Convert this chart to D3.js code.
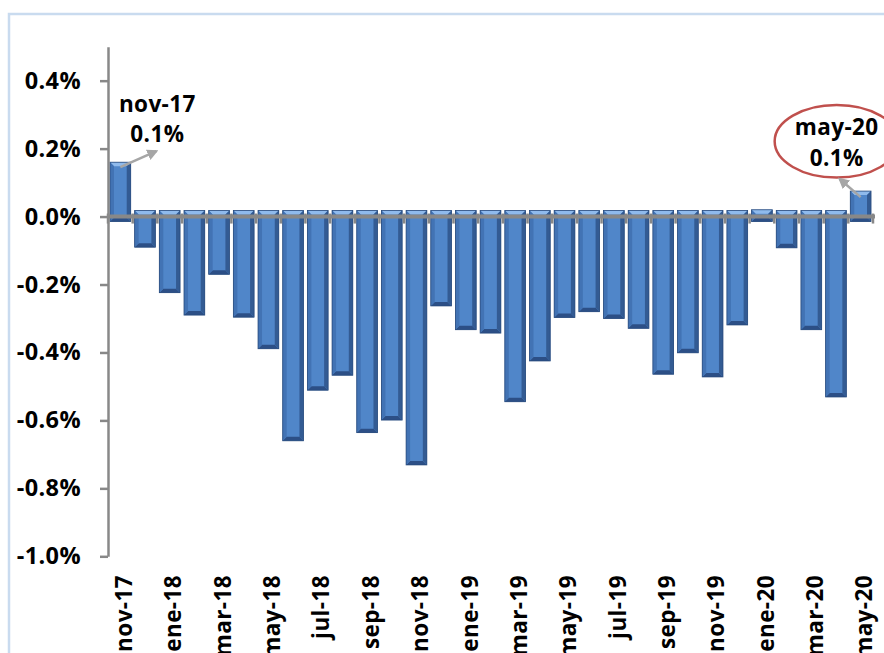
<!DOCTYPE html>
<html>
<head>
<meta charset="utf-8">
<script src="https://cdn.jsdelivr.net/npm/d3@7"></script>
<style>
  body { margin: 0; background: #fff; }
  text { font-family: "Open Sans", "Noto Sans", sans-serif; font-weight: bold; fill: #000; letter-spacing: 0.4px; }
</style>
</head>
<body>
<div id="chart"></div>
<script>
const months = [
    "nov-17", "dic-17", "ene-18", "feb-18", "mar-18", "abr-18", "may-18", "jun-18",
    "jul-18", "ago-18", "sep-18", "oct-18", "nov-18", "dic-18", "ene-19", "feb-19",
    "mar-19", "abr-19", "may-19", "jun-19", "jul-19", "ago-19", "sep-19", "oct-19",
    "nov-19", "dic-19", "ene-20", "feb-20", "mar-20", "abr-20", "may-20"
];
// monthly change, %
const values = [
    0.16, -0.09, -0.224, -0.29, -0.17, -0.296, -0.389, -0.66,
    -0.511, -0.467, -0.636, -0.599, -0.731, -0.263, -0.333, -0.343,
    -0.545, -0.425, -0.297, -0.28, -0.30, -0.329, -0.464, -0.401,
    -0.472, -0.319, 0.02, -0.092, -0.333, -0.531, 0.075
];
const yTicks = [0.4, 0.2, 0.0, -0.2, -0.4, -0.6, -0.8, -1.0];
const xLabels = months.filter((m, i) => i % 2 === 0);
const callouts = [
    { month: "nov-17", lines: ["nov-17", "0.1%"] },
    { month: "may-20", lines: ["may-20", "0.1%"] }
];

const width = 884;
const height = 653;
const plotLeft = 108;
const plotRight = 873;
const plotTop = 46.7;
const plotBottom = 556.3;

const svg = (
    d3.select("#chart")
    .append("svg")
    .attr("width", width)
    .attr("height", height)
);

svg.append("defs").append("marker")
    .attr("id", "arrow")
    .attr("viewBox", "0 0 10 10")
    .attr("refX", 8).attr("refY", 5)
    .attr("markerWidth", 4.5).attr("markerHeight", 4.5)
    .attr("orient", "auto")
    .append("path")
    .attr("d", "M0,0 L10,5 L0,10 z")
    .attr("fill", "#a6a6a6");

// outer frame (only top and left edges are visible)
svg.append("path")
    .attr("d", `M9,${height} L9,14 L${width},14`)
    .attr("fill", "none")
    .attr("stroke", "#c9dbef")
    .attr("stroke-width", 2.5);

const x = (
    d3.scaleBand()
    .domain(months)
    .range([plotLeft, plotRight])
    .paddingInner(0.16)
    .paddingOuter(0.08)
);
const y = d3.scaleLinear().domain([-1.0, 0.5]).range([plotBottom, plotTop]);
const y0 = y(0);

// bars with a bevelled look
const bev = 4;
const bars = svg.append("g");
months.forEach((m, i) => {
    const v = values[i];
    const bx = x(m);
    const bw = x.bandwidth();
    const t = v >= 0 ? y(v) : y0 - 6;
    const b = v >= 0 ? y0 + 5 : y(v);
    const g = bars.append("g");
    g.append("rect")
        .attr("x", bx).attr("y", t)
        .attr("width", bw).attr("height", b - t)
        .attr("fill", "#5086c9");
    const faces = [
        [[bx, t], [bx + bw, t], [bx + bw - bev, t + bev], [bx + bev, t + bev], "#8fbaec"],
        [[bx, b], [bx + bw, b], [bx + bw - bev, b - bev], [bx + bev, b - bev], "#2c4f86"],
        [[bx, t], [bx + bev, t + bev], [bx + bev, b - bev], [bx, b], "#4273b4"],
        [[bx + bw, t], [bx + bw - bev, t + bev], [bx + bw - bev, b - bev], [bx + bw, b], "#335b93"]
    ];
    faces.forEach((f) => {
        g.append("polygon")
            .attr("points", f.slice(0, 4).map((p) => p.join(",")).join(" "))
            .attr("fill", f[4]);
    });
    g.append("rect")
        .attr("x", bx).attr("y", t)
        .attr("width", bw).attr("height", b - t)
        .attr("fill", "none")
        .attr("stroke", "#284a7c")
        .attr("stroke-width", 0.8);
});

// y axis
const yAxis = (
    d3.axisLeft(y)
    .tickValues(yTicks)
    .tickFormat((d) => (Math.abs(d) < 1e-9 ? 0 : d).toFixed(1) + "%")
    .tickSizeInner(8)
    .tickSizeOuter(0)
    .tickPadding(19)
);
const ya = svg.append("g").attr("transform", `translate(${plotLeft},0)`).call(yAxis);
ya.select(".domain").attr("stroke", "#888").attr("stroke-width", 2.5);
ya.selectAll(".tick line").attr("stroke", "#888").attr("stroke-width", 2.5);
ya.selectAll(".tick text")
    .attr("font-size", 23.5)
    .attr("font-family", "'Open Sans', sans-serif")
    .attr("font-weight", "bold")
    .attr("fill", "#000");

// x axis: line at zero with ticks between categories
const xa = svg.append("g");
const bounds = d3.range(months.length + 1).map((i) => plotLeft + i * x.step());
xa.selectAll("line.tk")
    .data(bounds)
    .join("line")
    .attr("class", "tk")
    .attr("x1", (d) => d).attr("x2", (d) => d)
    .attr("y1", y0 - 3).attr("y2", y0 + 7)
    .attr("stroke", "#888").attr("stroke-width", 2.5);
xa.append("line")
    .attr("x1", plotLeft).attr("x2", plotRight + 2)
    .attr("y1", y0).attr("y2", y0)
    .attr("stroke", "#888").attr("stroke-width", 4);

// category labels, rotated
svg.append("g")
    .selectAll("text")
    .data(xLabels)
    .join("text")
    .attr("transform", (d) => `translate(${x(d) + x.bandwidth() / 2},575) rotate(-90)`)
    .attr("text-anchor", "end")
    .attr("dy", "0.52em")
    .attr("font-size", 22.5)
    .text((d) => d);

// callouts
const c1 = callouts[0];
const c1x = x(c1.month) + x.bandwidth() / 2;
const c1v = values[months.indexOf(c1.month)];
svg.append("line")
    .attr("x1", c1x).attr("y1", y(c1v) + 5)
    .attr("x2", c1x + 36).attr("y2", y(c1v) - 11)
    .attr("stroke", "#a6a6a6").attr("stroke-width", 2.5)
    .attr("marker-end", "url(#arrow)");
svg.append("g")
    .selectAll("text")
    .data(c1.lines)
    .join("text")
    .attr("x", c1x + 37)
    .attr("y", (d, i) => 111.7 + i * 30)
    .attr("text-anchor", "middle")
    .attr("font-size", 22.5)
    .text((d) => d);

const c2 = callouts[1];
const c2x = x(c2.month) + x.bandwidth() / 2;
const c2v = values[months.indexOf(c2.month)];
svg.append("ellipse")
    .attr("cx", c2x - 24).attr("cy", 141.3)
    .attr("rx", 62).attr("ry", 36.3)
    .attr("fill", "none")
    .attr("stroke", "#c0504d")
    .attr("stroke-width", 2.5);
svg.append("line")
    .attr("x1", c2x).attr("y1", y(c2v) + 6)
    .attr("x2", c2x - 21).attr("y2", 179)
    .attr("stroke", "#a6a6a6").attr("stroke-width", 2.5)
    .attr("marker-end", "url(#arrow)");
svg.append("g")
    .selectAll("text")
    .data(c2.lines)
    .join("text")
    .attr("x", c2x - 24)
    .attr("y", (d, i) => 135 + i * 30.7)
    .attr("text-anchor", "middle")
    .attr("font-size", 22.5)
    .text((d) => d);
</script>
</body>
</html>
